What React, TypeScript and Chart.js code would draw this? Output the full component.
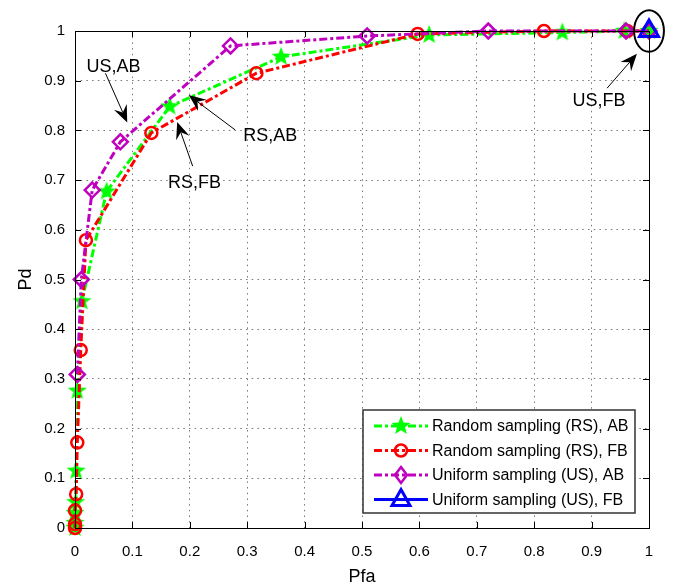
import React, { useEffect, useRef } from 'react';
import { Chart, registerables } from 'chart.js';

Chart.register(...registerables);

// ---- Data ----
const rsAbPfa = [0, 0, 0, 0.001, 0.002, 0.004, 0.012, 0.055, 0.165, 0.359, 0.617, 0.849, 0.957, 1];
const rsAbPd = [0, 0.01, 0.03, 0.052, 0.115, 0.276, 0.456, 0.677, 0.848, 0.948, 0.992, 0.997, 1, 1];

const rsFbPfa = [0, 0, 0, 0.002, 0.004, 0.01, 0.019, 0.133, 0.316, 0.597, 0.817, 0.962, 1];
const rsFbPd = [0, 0.008, 0.035, 0.068, 0.172, 0.358, 0.579, 0.795, 0.915, 0.994, 1, 1, 1];

const usAbPfa = [0.004, 0.011, 0.03, 0.079, 0.271, 0.509, 0.72, 0.96, 1];
const usAbPd = [0.309, 0.5, 0.68, 0.777, 0.97, 0.99, 1, 1, 1];

const usFbPfa = [1];
const usFbPd = [1];

const tickValues = [0, 0.1, 0.2, 0.3, 0.4, 0.5, 0.6, 0.7, 0.8, 0.9, 1];
const tickLabels = ['0', '0.1', '0.2', '0.3', '0.4', '0.5', '0.6', '0.7', '0.8', '0.9', '1'];

const legendLabels = [
  'Random sampling (RS), AB',
  'Random sampling (RS), FB',
  'Uniform sampling (US), AB',
  'Uniform sampling (US), FB',
];

// annotations in data units: text position and arrow from -> to
const annotations = [
  { text: 'US,AB', tx: 0.067, ty: 0.928, fx: 0.053, fy: 0.915, ex: 0.091, ey: 0.816 },
  { text: 'RS,AB', tx: 0.34, ty: 0.788, fx: 0.279, fy: 0.801, ex: 0.198, ey: 0.871 },
  { text: 'RS,FB', tx: 0.208, ty: 0.694, fx: 0.205, fy: 0.728, ex: 0.178, ey: 0.817 },
  { text: 'US,FB', tx: 0.913, ty: 0.859, fx: 0.927, fy: 0.885, ex: 0.979, ey: 0.954 },
];
const ellipse = { cx: 1, cy: 1, rx: 0.026, ry: 0.042 };

const GREEN = '#00ff00';
const RED = '#ff0000';
const MAGENTA = '#bf00bf';
const BLUE = '#0000ff';
const DASHDOT = [8, 3, 3, 3];
const FONT = '"Liberation Sans", Arial, Helvetica, sans-serif';

function makeStar(color: string, R: number, r: number) {
  const size = Math.ceil(2 * R + 2);
  const c = document.createElement('canvas');
  c.width = size;
  c.height = size;
  const g = c.getContext('2d')!;
  g.beginPath();
  for (let i = 0; i < 10; i++) {
    const a = -Math.PI / 2 + (i * Math.PI) / 5;
    const rad = i % 2 ? r : R;
    g.lineTo(size / 2 + rad * Math.cos(a), size / 2 + rad * Math.sin(a));
  }
  g.closePath();
  g.fillStyle = color;
  g.fill();
  return c;
}

function zip(xs: number[], ys: number[]) {
  return xs.map((x, i) => ({ x, y: ys[i] }));
}

function drawArrow(ctx: CanvasRenderingContext2D, x1: number, y1: number, x2: number, y2: number) {
  const ang = Math.atan2(y2 - y1, x2 - x1);
  const L = 17;
  const W = 7;
  const back = 11;
  ctx.beginPath();
  ctx.moveTo(x1, y1);
  ctx.lineTo(x2 - Math.cos(ang) * back, y2 - Math.sin(ang) * back);
  ctx.stroke();
  ctx.save();
  ctx.translate(x2, y2);
  ctx.rotate(ang);
  ctx.beginPath();
  ctx.moveTo(0, 0);
  ctx.lineTo(-L, -W);
  ctx.lineTo(-back, 0);
  ctx.lineTo(-L, W);
  ctx.closePath();
  ctx.fill();
  ctx.restore();
}

function drawMarker(ctx: CanvasRenderingContext2D, kind: string, x: number, y: number, color: string, star?: HTMLCanvasElement) {
  ctx.save();
  ctx.strokeStyle = color;
  ctx.lineWidth = 2.5;
  ctx.setLineDash([]);
  if (kind === 'star' && star) {
    ctx.drawImage(star, x - star.width / 2, y - star.height / 2);
  } else if (kind === 'circle') {
    ctx.beginPath();
    ctx.arc(x, y, 6, 0, Math.PI * 2);
    ctx.stroke();
  } else if (kind === 'diamond') {
    ctx.beginPath();
    ctx.moveTo(x, y - 8);
    ctx.lineTo(x + 6, y);
    ctx.lineTo(x, y + 8);
    ctx.lineTo(x - 6, y);
    ctx.closePath();
    ctx.stroke();
  } else if (kind === 'triangle') {
    ctx.lineWidth = 3;
    ctx.beginPath();
    ctx.moveTo(x, y - 10);
    ctx.lineTo(x + 9, y + 6);
    ctx.lineTo(x - 9, y + 6);
    ctx.closePath();
    ctx.stroke();
  }
  ctx.restore();
}

export default function App() {
  const ref = useRef<HTMLCanvasElement | null>(null);

  useEffect(() => {
    if (!ref.current) return;
    const star = makeStar(GREEN, 10, 4.2);

    const legendItems = [
      { label: legendLabels[0], color: GREEN, dash: DASHDOT, kind: 'star' },
      { label: legendLabels[1], color: RED, dash: DASHDOT, kind: 'circle' },
      { label: legendLabels[2], color: MAGENTA, dash: DASHDOT, kind: 'diamond' },
      { label: legendLabels[3], color: BLUE, dash: [] as number[], kind: 'triangle' },
    ];

    const decor = {
      id: 'decor',
      afterDatasetsDraw(chart: any) {
        const { ctx, chartArea: a } = chart;
        const xs = chart.scales.x;
        const ys = chart.scales.y;
        ctx.save();
        // frame
        ctx.strokeStyle = '#000';
        ctx.lineWidth = 1;
        ctx.setLineDash([]);
        ctx.strokeRect(Math.round(a.left) + 0.5, Math.round(a.top) + 0.5, Math.round(a.right - a.left), Math.round(a.bottom - a.top));
        // inner ticks
        ctx.beginPath();
        for (const v of tickValues) {
          const px = Math.round(xs.getPixelForValue(v)) + 0.5;
          ctx.moveTo(px, a.bottom);
          ctx.lineTo(px, a.bottom - 6);
          ctx.moveTo(px, a.top);
          ctx.lineTo(px, a.top + 6);
          const py = Math.round(ys.getPixelForValue(v)) + 0.5;
          ctx.moveTo(a.left, py);
          ctx.lineTo(a.left + 6, py);
          ctx.moveTo(a.right, py);
          ctx.lineTo(a.right - 6, py);
        }
        ctx.stroke();

        // annotations
        ctx.fillStyle = '#000';
        ctx.strokeStyle = '#000';
        ctx.lineWidth = 1;
        ctx.font = `18px ${FONT}`;
        ctx.textAlign = 'center';
        ctx.textBaseline = 'middle';
        for (const an of annotations) {
          ctx.fillText(an.text, xs.getPixelForValue(an.tx), ys.getPixelForValue(an.ty));
          drawArrow(
            ctx,
            xs.getPixelForValue(an.fx),
            ys.getPixelForValue(an.fy),
            xs.getPixelForValue(an.ex),
            ys.getPixelForValue(an.ey)
          );
        }
        // ellipse
        const cx = xs.getPixelForValue(ellipse.cx);
        const cy = ys.getPixelForValue(ellipse.cy);
        const rx = Math.abs(xs.getPixelForValue(ellipse.cx + ellipse.rx) - cx);
        const ry = Math.abs(ys.getPixelForValue(ellipse.cy + ellipse.ry) - cy);
        ctx.lineWidth = 2;
        ctx.beginPath();
        ctx.ellipse(cx, cy, rx, ry, 0, 0, Math.PI * 2);
        ctx.stroke();

        // legend
        const bw = 272;
        const bh = 103;
        const bx = a.right - 14 - bw;
        const by = a.bottom - 15 - bh;
        ctx.fillStyle = '#fff';
        ctx.fillRect(bx, by, bw, bh);
        ctx.strokeStyle = '#333';
        ctx.lineWidth = 1.5;
        ctx.strokeRect(bx, by, bw, bh);
        ctx.font = `16px ${FONT}`;
        ctx.textAlign = 'left';
        ctx.textBaseline = 'middle';
        legendItems.forEach((it, i) => {
          const ly = by + 16 + i * 24.5;
          ctx.save();
          ctx.strokeStyle = it.color;
          ctx.lineWidth = 3;
          ctx.setLineDash(it.dash);
          ctx.beginPath();
          ctx.moveTo(bx + 11, ly);
          ctx.lineTo(bx + 65, ly);
          ctx.stroke();
          ctx.restore();
          drawMarker(ctx, it.kind, bx + 38, ly, it.color, star);
          ctx.fillStyle = '#000';
          ctx.fillText(it.label, bx + 69, ly + 1);
        });

        // axis titles
        ctx.fillStyle = '#000';
        ctx.font = `18px ${FONT}`;
        ctx.textAlign = 'center';
        ctx.textBaseline = 'middle';
        ctx.fillText('Pfa', (a.left + a.right) / 2, a.bottom + 49);
        ctx.save();
        ctx.translate(26, (a.top + a.bottom) / 2);
        ctx.rotate(-Math.PI / 2);
        ctx.fillText('Pd', 0, 0);
        ctx.restore();
        ctx.restore();
      },
    };

    const axisCommon = {
      type: 'linear' as const,
      min: 0,
      max: 1,
      grid: { color: '#777', lineWidth: 1, drawTicks: false },
      border: { display: false, dash: [1.5, 4.2] },
    };

    const chart = new Chart(ref.current, {
      type: 'line',
      data: {
        datasets: [
          {
            label: legendLabels[0],
            data: zip(rsAbPfa, rsAbPd),
            borderColor: GREEN,
            backgroundColor: GREEN,
            borderWidth: 3,
            borderDash: DASHDOT,
            pointStyle: star as any,
            pointRadius: 10,
            order: 4,
            clip: false as any,
          },
          {
            label: legendLabels[1],
            data: zip(rsFbPfa, rsFbPd),
            borderColor: RED,
            backgroundColor: 'rgba(0,0,0,0)',
            borderWidth: 3,
            borderDash: DASHDOT,
            pointStyle: 'circle',
            pointRadius: 6,
            pointBorderWidth: 2.5,
            order: 3,
            clip: false as any,
          },
          {
            label: legendLabels[2],
            data: zip(usAbPfa, usAbPd),
            borderColor: MAGENTA,
            backgroundColor: 'rgba(0,0,0,0)',
            borderWidth: 3,
            borderDash: DASHDOT,
            pointStyle: 'rectRot',
            pointRadius: 7.5,
            pointBorderWidth: 2.5,
            order: 2,
            clip: false as any,
          },
          {
            label: legendLabels[3],
            data: zip(usFbPfa, usFbPd),
            borderColor: BLUE,
            backgroundColor: 'rgba(0,0,0,0)',
            borderWidth: 3,
            pointStyle: 'triangle',
            pointRadius: 11,
            pointBorderWidth: 3,
            order: 1,
            clip: false as any,
          },
        ],
      },
      options: {
        responsive: false,
        animation: false,
        events: [],
        layout: { padding: { left: 0, right: 26, top: 31, bottom: 0 } },
        plugins: { legend: { display: false }, tooltip: { enabled: false }, title: { display: false } },
        scales: {
          x: {
            ...axisCommon,
            position: 'bottom',
            ticks: {
              stepSize: 0.1,
              padding: 15,
              color: '#000',
              font: { family: FONT, size: 15 },
              maxRotation: 0,
              autoSkip: false,
              callback: (_v: any, i: number) => tickLabels[i],
            },
            afterFit: (s: any) => {
              s.height = 59;
            },
          },
          y: {
            ...axisCommon,
            position: 'left',
            ticks: {
              stepSize: 0.1,
              padding: 10,
              color: '#000',
              font: { family: FONT, size: 15 },
              autoSkip: false,
              callback: (_v: any, i: number) => tickLabels[i],
            },
            afterFit: (s: any) => {
              s.width = 75;
            },
          },
        },
      },
      plugins: [decor],
    } as any);

    return () => chart.destroy();
  }, []);

  return (
    <div style={{ position: 'absolute', left: 0, top: 0, width: 675, height: 587, background: '#fff' }}>
      <canvas ref={ref} width={675} height={587} />
    </div>
  );
}
